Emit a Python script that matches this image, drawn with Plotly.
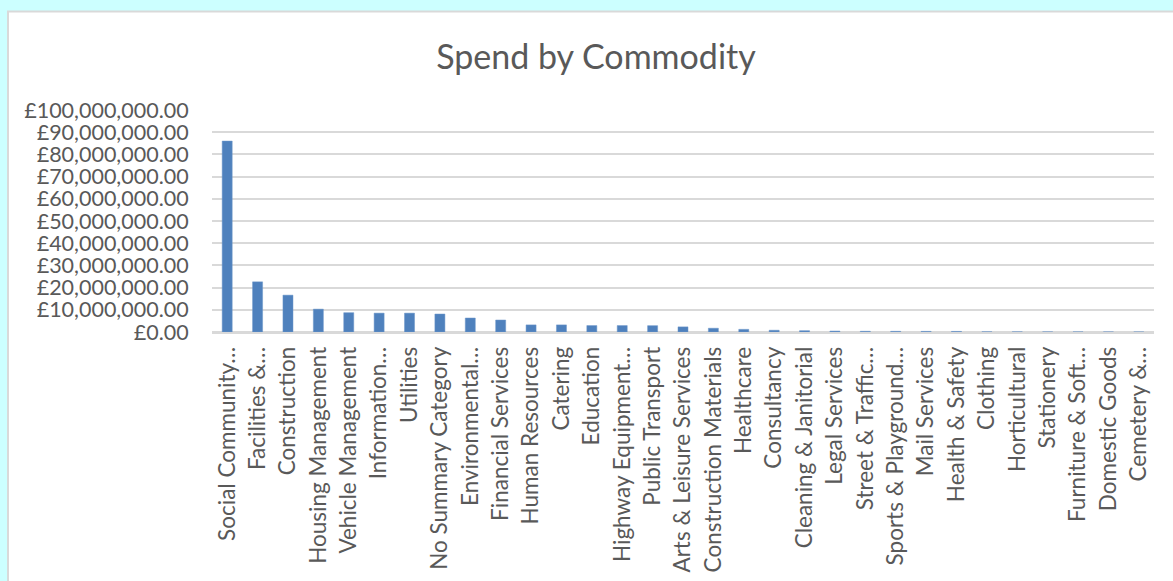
import plotly.graph_objects as go

categories = [
    "Social Community…", "Facilities &…", "Construction", "Housing Management",
    "Vehicle Management", "Information…", "Utilities", "No Summary Category",
    "Environmental…", "Financial Services", "Human Resources", "Catering",
    "Education", "Highway Equipment…", "Public Transport", "Arts & Leisure Services",
    "Construction Materials", "Healthcare", "Consultancy", "Cleaning & Janitorial",
    "Legal Services", "Street & Traffic…", "Sports & Playground…", "Mail Services",
    "Health & Safety", "Clothing", "Horticultural", "Stationery",
    "Furniture & Soft…", "Domestic Goods", "Cemetery &…",
]
spend = [
    86000000, 22600000, 16600000, 10300000,
    8700000, 8500000, 8500000, 8100000,
    6300000, 5400000, 3200000, 3200000,
    2900000, 2900000, 2850000, 2300000,
    1700000, 1200000, 800000, 600000,
    420000, 320000, 300000, 280000,
    260000, 90000, 70000, 60000,
    50000, 40000, 30000,
]
y_ticks = [i * 10000000 for i in range(11)]
y_tick_labels = ["£{:,.2f}".format(v) for v in y_ticks]

FONT = "Lato, 'Open Sans', sans-serif"
GREY = "#595959"

fig = go.Figure(go.Bar(
    x=categories, y=spend,
    marker=dict(color="#4f81bd", line=dict(color="#6d97c9", width=0.5)),
    width=0.33,
))

fig.update_layout(
    width=1173, height=581,
    paper_bgcolor="#ccffff",
    plot_bgcolor="rgba(0,0,0,0)",
    margin=dict(l=212, r=19, t=110, b=249, autoexpand=False),
    title=dict(text="Spend by Commodity", x=596 / 1173, xref="container", xanchor="center",
               y=1 - 57 / 581, yref="container", yanchor="middle",
               font=dict(family=FONT, size=34, color=GREY)),
    font=dict(family=FONT, color=GREY),
    showlegend=False,
    shapes=[dict(type="rect", xref="paper", yref="paper",
                 x0=(8 - 212) / 942, x1=1.2, y0=-2.0, y1=1 + (110 - 11.5) / 222,
                 fillcolor="white", line=dict(color="#d9d9d9", width=2), layer="below")],
)

fig.update_xaxes(
    tickangle=-90, tickfont=dict(family=FONT, size=22.5, color=GREY),
    showgrid=False, showline=True, linecolor="#d9d9d9", linewidth=1.5,
    ticks="outside", ticklen=4, tickcolor="rgba(0,0,0,0)",
    range=[-0.5, len(categories) - 0.5],
)
fig.update_yaxes(
    range=[0, 100000000], tickvals=y_ticks, ticktext=y_tick_labels,
    tickfont=dict(family=FONT, size=21.5, color=GREY),
    showgrid=True, gridcolor="#d9d9d9", gridwidth=1.5,
    zeroline=True, zerolinecolor="#d9d9d9", zerolinewidth=1.5,
    ticks="outside", ticklen=18, tickcolor="rgba(0,0,0,0)",
)

fig.write_html("out.html")
